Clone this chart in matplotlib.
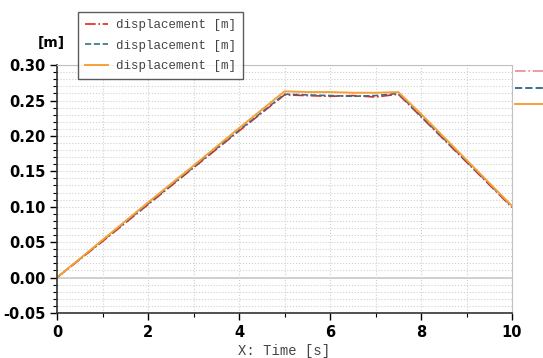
import matplotlib.pyplot as plt
from matplotlib.lines import Line2D
from matplotlib.ticker import MultipleLocator

# data
time = [0, 1, 2, 3, 4, 5, 5.5, 6, 6.5, 7, 7.5, 8, 9, 10]
disp_red = [0, 0.051, 0.103, 0.155, 0.207, 0.258, 0.257, 0.256, 0.257, 0.255, 0.259, 0.227, 0.163, 0.099]
disp_blue = [0, 0.052, 0.104, 0.156, 0.208, 0.259, 0.258, 0.257, 0.256, 0.257, 0.260, 0.228, 0.164, 0.100]
disp_orange = [0, 0.053, 0.106, 0.158, 0.211, 0.263, 0.262, 0.262, 0.261, 0.261, 0.262, 0.231, 0.166, 0.101]
labels = ["displacement [m]", "displacement [m]", "displacement [m]"]

c_red = "#e3241c"
c_blue = "#3b6e8c"
c_orange = "#f7a035"

fig = plt.figure(figsize=(5.43, 3.58), dpi=100)
ax = fig.add_axes([0.105, 0.126, 0.838, 0.692])

l1, = ax.plot(time, disp_red, color=c_red, ls="-.", lw=1.2)
l2, = ax.plot(time, disp_blue, color=c_blue, ls="--", lw=1.2)
l3, = ax.plot(time, disp_orange, color=c_orange, ls="-", lw=1.4)

ax.set_xlim(0, 10)
ax.set_ylim(-0.05, 0.30)
ax.xaxis.set_major_locator(MultipleLocator(2))
ax.xaxis.set_minor_locator(MultipleLocator(1))
ax.yaxis.set_major_locator(MultipleLocator(0.05))
ax.yaxis.set_minor_locator(MultipleLocator(0.01))
ax.yaxis.set_major_formatter(plt.FormatStrFormatter("%.2f"))

ax.grid(which="both", color="#d0d0d0", ls=":", lw=0.8)
ax.axhline(0, color="#c8c8c8", lw=1.2, zorder=1)

for s in ["top", "right"]:
    ax.spines[s].set_color("#c0c0c0")
for s in ["left", "bottom"]:
    ax.spines[s].set_color("#333333")
    ax.spines[s].set_linewidth(1.2)

ax.tick_params(which="major", direction="out", length=5, width=1, labelsize=10.5)
ax.tick_params(which="minor", direction="out", length=3, width=0.8)
for lab in ax.get_xticklabels() + ax.get_yticklabels():
    lab.set_fontweight("bold")

ax.set_xlabel("X: Time [s]", family="Liberation Mono", fontsize=10, color="#444444", labelpad=3)
fig.text(0.07, 0.88, "[m]", fontsize=10, fontweight="bold", ha="left", va="center")

leg = fig.legend([l1, l2, l3], labels, loc="upper left", bbox_to_anchor=(0.143, 0.966),
                 prop={"family": "Liberation Mono", "size": 9.0}, frameon=True, fancybox=False,
                 handlelength=1.9, borderpad=0.55, labelspacing=0.68, handletextpad=0.6,
                 borderaxespad=0)
leg.get_frame().set_edgecolor("#333333")
leg.get_frame().set_linewidth(1.0)
for t in leg.get_texts():
    t.set_color("#444444")

# second legend, cut off at the right edge
h_right = [Line2D([], [], color="#f08a8a", ls="-.", lw=1.2),
           Line2D([], [], color=c_blue, ls="--", lw=1.4),
           Line2D([], [], color=c_orange, ls="-", lw=1.4)]
leg2 = fig.legend(h_right, [" ", " ", " "], loc="upper left", bbox_to_anchor=(0.94, 0.83),
                  frameon=False, handlelength=2.5, labelspacing=0.25, fontsize=9,
                  borderaxespad=0)

fig.savefig("out.png", dpi=100)
